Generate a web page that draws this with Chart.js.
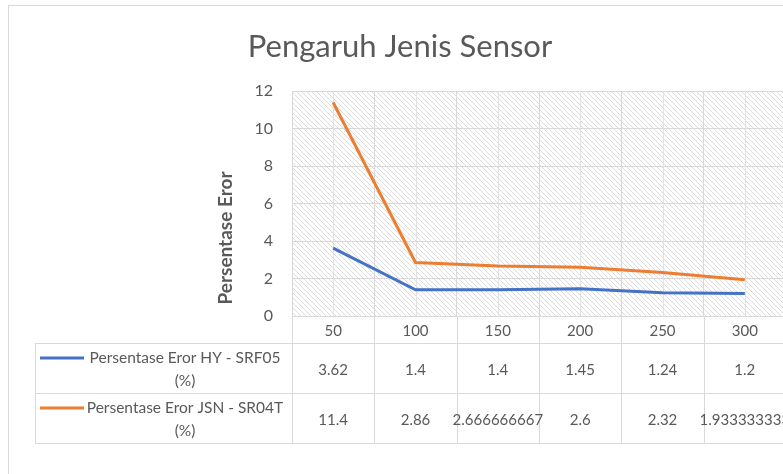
<!DOCTYPE html>
<html>
<head>
<meta charset="utf-8">
<title>Pengaruh Jenis Sensor</title>
<script src="https://cdn.jsdelivr.net/npm/chart.js@4"></script>
<style>
  html, body { margin: 0; padding: 0; background: #fff; overflow: hidden; }
  #wrap { width: 783px; height: 474px; overflow: hidden; }
</style>
</head>
<body>
<div id="wrap"><canvas id="grafik" width="800" height="474"></canvas></div>
<script>
// data dari grafik
const kategori = ['50', '100', '150', '200', '250', '300'];
const erorHY = [3.62, 1.4, 1.4, 1.45, 1.24, 1.2];
const erorJSN = [11.4, 2.86, 2.666666667, 2.6, 2.32, 1.933333333];
const namaSeri = ['Persentase Eror HY - SRF05 (%)', 'Persentase Eror JSN - SR04T (%)'];
const warnaSeri = ['#4472C4', '#ED7D31'];
const yTicks = [0, 2, 4, 6, 8, 10, 12];
const judulY = 'Persentase Eror';

const FONT = 'Lato, "Open Sans", sans-serif';
const ABU = '#595959';
const GARIS = '#d9d9d9';

// pola arsir diagonal untuk area plot
function buatPola(ctx) {
  const s = 5;
  const c = document.createElement('canvas');
  c.width = s; c.height = s;
  const g = c.getContext('2d');
  g.fillStyle = '#fff';
  g.fillRect(0, 0, s, s);
  g.strokeStyle = '#dcdcdc';
  g.lineWidth = 1;
  g.beginPath();
  g.moveTo(-1, -1); g.lineTo(s + 1, s + 1);
  g.moveTo(-1, s - 1); g.lineTo(1, s + 1);
  g.moveTo(s - 1, -1); g.lineTo(s + 1, 1);
  g.stroke();
  return ctx.createPattern(c, 'repeat');
}

const latarPlot = {
  id: 'latarPlot',
  beforeDraw(chart) {
    const { ctx, chartArea: a } = chart;
    ctx.save();
    // bingkai luar grafik
    ctx.strokeStyle = GARIS;
    ctx.lineWidth = 1;
    ctx.strokeRect(8.5, 5.5, 783, 600);
    ctx.fillStyle = buatPola(ctx);
    ctx.fillRect(a.left, a.top, a.right - a.left, a.bottom - a.top);
    ctx.restore();
  },
  beforeDatasetsDraw(chart) {
    // garis bantu di tengah tiap kategori
    const { ctx, chartArea: a, scales: { x } } = chart;
    ctx.save();
    ctx.strokeStyle = '#e2e2e2';
    ctx.lineWidth = 1;
    kategori.forEach((_, i) => {
      const px = Math.round(x.getPixelForValue(i)) + 0.5;
      ctx.beginPath();
      ctx.moveTo(px, a.top);
      ctx.lineTo(px, a.bottom);
      ctx.stroke();
    });
    ctx.restore();
  },
  afterDraw(chart) {
    // judul sumbu y, ala Excel: di tengah plot + tabel
    const { ctx } = chart;
    ctx.save();
    ctx.translate(226, 238);
    ctx.rotate(-Math.PI / 2);
    ctx.font = 'bold 19px ' + FONT;
    ctx.fillStyle = ABU;
    ctx.textAlign = 'center';
    ctx.textBaseline = 'middle';
    ctx.fillText(judulY, 0, 0);
    ctx.restore();
  }
};

// tabel data di bawah sumbu x
const tabelData = {
  id: 'tabelData',
  afterDraw(chart) {
    const { ctx, scales: { x } } = chart;
    const atas = x.top;
    const barisH = 50;
    const kiri = 35;
    const lebar = x.getPixelForValue(1) - x.getPixelForValue(0);
    const kolomKiri = x.getPixelForValue(0) - lebar / 2;
    const semua = [erorHY, erorJSN];
    const bawah = x.bottom + barisH * semua.length;

    ctx.save();
    ctx.strokeStyle = GARIS;
    ctx.lineWidth = 1;
    ctx.beginPath();
    // garis vertikal antar kolom
    for (let i = 0; i <= kategori.length; i++) {
      const px = Math.round(kolomKiri + i * lebar) + 0.5;
      ctx.moveTo(px, atas);
      ctx.lineTo(px, bawah);
    }
    ctx.moveTo(kiri + 0.5, x.bottom);
    ctx.lineTo(kiri + 0.5, bawah);
    // garis horizontal
    for (let r = 0; r <= semua.length; r++) {
      const py = Math.round(x.bottom + r * barisH) + 0.5;
      ctx.moveTo(kiri, py);
      ctx.lineTo(chart.width, py);
    }
    ctx.stroke();

    ctx.fillStyle = ABU;
    ctx.textAlign = 'center';
    ctx.textBaseline = 'middle';
    semua.forEach((data, r) => {
      const y0 = x.bottom + r * barisH;
      // contoh garis legenda
      ctx.strokeStyle = warnaSeri[r];
      ctx.lineWidth = 3;
      ctx.beginPath();
      ctx.moveTo(40, y0 + 15);
      ctx.lineTo(84, y0 + 15);
      ctx.stroke();
      ctx.font = '15.5px ' + FONT;
      const nama = namaSeri[r];
      const potong = nama.lastIndexOf(' ');
      ctx.fillText(nama.slice(0, potong), 185, y0 + 15);
      ctx.fillText(nama.slice(potong + 1), 185, y0 + 38);
      ctx.font = '15px ' + FONT;
      data.forEach((v, i) => {
        ctx.fillText(String(v), x.getPixelForValue(i), y0 + barisH / 2 + 2);
      });
    });
    ctx.restore();
  }
};

const ctx = document.getElementById('grafik').getContext('2d');
const chart = new Chart(ctx, {
  type: 'line',
  data: {
    labels: kategori,
    datasets: [
      {
        label: namaSeri[0],
        data: erorHY,
        borderColor: warnaSeri[0],
        borderWidth: 3,
        pointRadius: 0,
        tension: 0
      },
      {
        label: namaSeri[1],
        data: erorJSN,
        borderColor: warnaSeri[1],
        borderWidth: 3,
        pointRadius: 0,
        tension: 0
      }
    ]
  },
  options: {
    responsive: false,
    animation: false,
    layout: { padding: { left: 14, right: 14, top: 0, bottom: 131 } },
    plugins: {
      legend: { display: false },
      tooltip: { enabled: false },
      title: {
        display: true,
        text: 'Pengaruh Jenis Sensor',
        color: ABU,
        font: { family: FONT, size: 31, weight: 'normal' },
        padding: { top: 28, bottom: 26 }
      }
    },
    scales: {
      x: {
        offset: true,
        grid: { offset: true, color: GARIS, drawTicks: false },
        border: { display: true, color: GARIS },
        ticks: { color: ABU, font: { family: FONT, size: 15 }, padding: 6, maxRotation: 0 },
        afterFit(s) { s.height = 27; }
      },
      y: {
        min: 0,
        max: 12,
        afterBuildTicks(s) { s.ticks = yTicks.map(v => ({ value: v })); },
        grid: { color: GARIS, drawTicks: false },
        border: { display: false },
        ticks: { color: ABU, font: { family: FONT, size: 16 }, padding: 19 },
        afterFit(s) { s.width = 278; }
      }
    }
  },
  plugins: [latarPlot, tabelData]
});
</script>
</body>
</html>
